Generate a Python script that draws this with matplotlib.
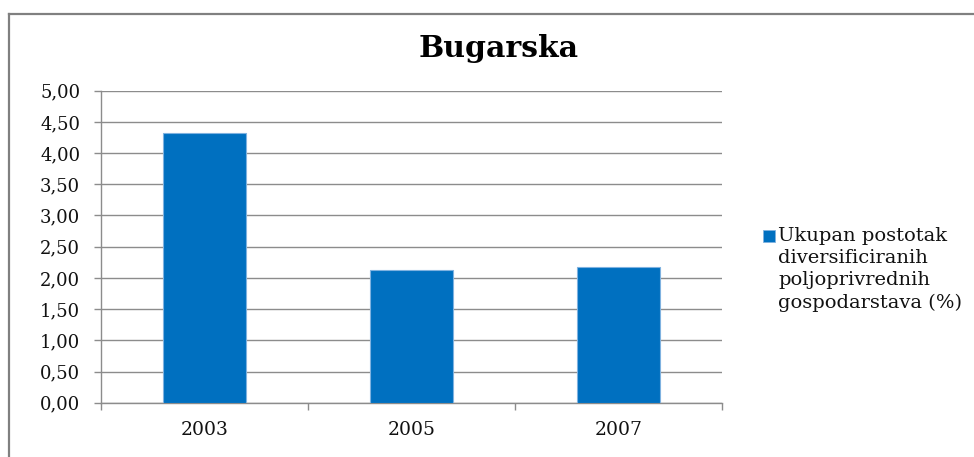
import matplotlib
matplotlib.use("Agg")
import matplotlib.pyplot as plt
from matplotlib.lines import Line2D
from matplotlib.patches import Rectangle
from matplotlib.ticker import FuncFormatter, MultipleLocator, FixedLocator

categories = ["2003", "2005", "2007"]
values = [4.32, 2.13, 2.18]
series_label = "Ukupan postotak\ndiversificiranih\npoljoprivrednih\ngospodarstava (%)"
title = "Bugarska"

W, H = 974, 457
fig = plt.figure(figsize=(W / 100, H / 100), dpi=100)
fig.patch.set_facecolor("white")

def fx(px):
    return px / W

def fy(py):
    return 1 - py / H

ax = fig.add_axes([fx(101), fy(402.7), (722 - 101) / W, (402.7 - 90.7) / H])

x = list(range(len(categories)))
ax.bar(x, values, width=0.4, color="#0070C0", edgecolor="#7fb2e0", linewidth=0.8, zorder=3)

ax.set_xlim(-0.5, len(categories) - 0.5)
ax.set_ylim(0, 5)
ax.yaxis.set_major_locator(MultipleLocator(0.5))
ax.yaxis.set_major_formatter(FuncFormatter(lambda v, p: f"{v:.2f}".replace(".", ",")))
ax.grid(axis="y", color="#8c8c8c", linewidth=1.0, zorder=1)

ax.set_xticks(x)
ax.set_xticklabels(categories)
ax.xaxis.set_minor_locator(FixedLocator([i - 0.5 for i in range(len(categories) + 1)]))

for s in ["top", "right"]:
    ax.spines[s].set_visible(False)
for s in ["left", "bottom"]:
    ax.spines[s].set_color("#8c8c8c")
    ax.spines[s].set_linewidth(1.0)

font_kw = dict(family="DejaVu Serif")
ax.tick_params(axis="y", length=5, width=1.0, color="#8c8c8c", pad=10, labelsize=13)
ax.tick_params(axis="x", which="major", length=0, pad=13.5, labelsize=13.5)
ax.tick_params(axis="x", which="minor", length=5, width=1.0, color="#8c8c8c")
for lab in ax.get_xticklabels() + ax.get_yticklabels():
    lab.set_fontfamily("DejaVu Serif")
    lab.set_color("#111111")

# Title
fig.text(fx(498.5), fy(57), title, ha="center", va="baseline",
         fontsize=21.5, fontweight="bold", color="black", **font_kw)

# Legend (single series)
fig.patches.append(Rectangle((fx(763), fy(242)), 12 / W, 12 / H,
                             transform=fig.transFigure, facecolor="#0070C0",
                             edgecolor="#7fb2e0", linewidth=0.6))
fig.text(fx(778), fy(227), series_label, ha="left", va="top",
         fontsize=14, linespacing=1.3, color="#111111", **font_kw)

# Chart frame (top and left border)
fig.add_artist(Line2D([fx(8.5), fx(8.5)], [0, fy(13.5)], transform=fig.transFigure,
                      color="#808080", linewidth=1.6))
fig.add_artist(Line2D([fx(8.5), 1], [fy(13.5), fy(13.5)], transform=fig.transFigure,
                      color="#808080", linewidth=1.6))

fig.savefig("out.png", dpi=100)
